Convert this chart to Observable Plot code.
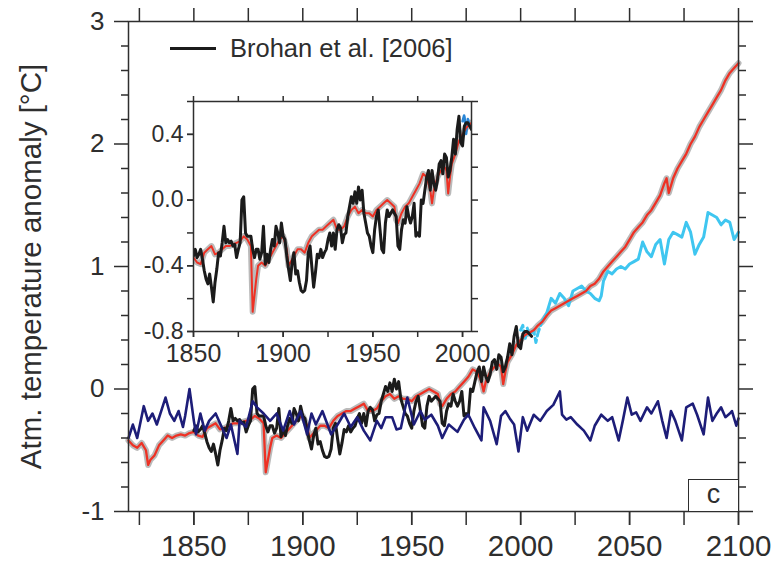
<!DOCTYPE html>
<html><head><meta charset="utf-8">
<script src="https://cdn.jsdelivr.net/npm/d3@7"></script>
<script src="https://cdn.jsdelivr.net/npm/@observablehq/plot@0.6"></script>
<style>
body{margin:0;background:#fff;}
#wrap{position:relative;width:773px;height:563px;font-family:"Liberation Sans",Arial,sans-serif;color:#2e2e2e;}
.abs{position:absolute;}
#legend{left:170px;top:34px;display:flex;align-items:center;font-size:25.5px;white-space:nowrap;}
#legend .sw{width:46px;height:0;border-top:3px solid #1b1b1b;margin-right:14px;}
#panel{left:688px;top:479px;width:49px;height:31px;border:1.5px solid #2e2e2e;border-right:none;border-bottom:none;font-size:27px;text-align:center;line-height:28px;background:#fff;}
</style></head><body><div id="wrap"></div>
<script>
// ---------- data ----------
const obsYears = [1850,1851,1852,1853,1854,1855,1856,1857,1858,1859,1860,1861,1862,1863,1864,1865,1866,1867,1868,1869,1870,1871,1872,1873,1874,1875,1876,1877,1878,1879,1880,1881,1882,1883,1884,1885,1886,1887,1888,1889,1890,1891,1892,1893,1894,1895,1896,1897,1898,1899,1900,1901,1902,1903,1904,1905,1906,1907,1908,1909,1910,1911,1912,1913,1914,1915,1916,1917,1918,1919,1920,1921,1922,1923,1924,1925,1926,1927,1928,1929,1930,1931,1932,1933,1934,1935,1936,1937,1938,1939,1940,1941,1942,1943,1944,1945,1946,1947,1948,1949,1950,1951,1952,1953,1954,1955,1956,1957,1958,1959,1960,1961,1962,1963,1964,1965,1966,1967,1968,1969,1970,1971,1972,1973,1974,1975,1976,1977,1978,1979,1980,1981,1982,1983,1984,1985,1986,1987,1988,1989,1990,1991,1992,1993,1994,1995,1996,1997,1998,1999,2000,2001,2002,2003,2004,2005];
const obsValues = [-0.34,-0.30,-0.35,-0.33,-0.30,-0.36,-0.43,-0.48,-0.51,-0.45,-0.53,-0.62,-0.50,-0.42,-0.32,-0.34,-0.26,-0.16,-0.26,-0.24,-0.26,-0.25,-0.28,-0.27,-0.35,-0.30,-0.26,0.00,0.02,-0.20,-0.22,-0.22,-0.22,-0.30,-0.35,-0.30,-0.30,-0.36,-0.32,-0.16,-0.39,-0.33,-0.38,-0.30,-0.24,-0.28,-0.16,-0.20,-0.26,-0.14,-0.22,-0.24,-0.34,-0.42,-0.49,-0.38,-0.32,-0.45,-0.43,-0.50,-0.55,-0.56,-0.55,-0.49,-0.32,-0.28,-0.41,-0.53,-0.44,-0.33,-0.35,-0.30,-0.35,-0.32,-0.30,-0.24,-0.20,-0.28,-0.20,-0.30,-0.18,-0.15,-0.17,-0.26,-0.21,-0.20,-0.10,-0.04,0.02,-0.02,0.05,-0.02,0.08,0.00,0.06,-0.08,-0.14,-0.20,-0.22,-0.28,-0.32,-0.18,-0.10,-0.06,-0.18,-0.30,-0.32,-0.14,-0.06,-0.10,-0.08,-0.06,-0.08,-0.10,-0.28,-0.30,-0.18,-0.12,-0.14,-0.04,-0.10,-0.14,-0.10,-0.02,-0.22,-0.20,-0.22,0.00,-0.02,0.06,0.14,0.18,0.06,0.18,0.10,0.06,0.12,0.22,0.24,0.16,0.28,0.26,0.14,0.18,0.26,0.37,0.28,0.43,0.51,0.35,0.33,0.45,0.47,0.47,0.45,0.43];

const modelYears = [1820,1822,1824,1826,1828,1829,1830,1832,1834,1836,1838,1840,1842,1844,1846,1848,1850,1852,1854,1856,1858,1860,1862,1864,1866,1868,1870,1872,1874,1876,1878,1880,1882,1883,1884,1885,1886,1888,1890,1892,1894,1896,1898,1900,1902,1903,1904,1906,1908,1910,1912,1914,1916,1918,1920,1922,1924,1926,1928,1930,1932,1934,1936,1938,1940,1942,1944,1946,1948,1950,1952,1954,1956,1958,1960,1962,1963,1964,1966,1968,1970,1972,1974,1976,1978,1980,1982,1983,1984,1986,1988,1990,1991,1992,1993,1994,1996,1998,2000,2002,2004,2006,2008,2010,2012,2014,2016,2018,2020,2022,2024,2026,2028,2030,2032,2034,2036,2038,2040,2042,2044,2046,2048,2050,2052,2054,2056,2058,2060,2062,2064,2066,2067,2068,2070,2072,2074,2076,2078,2080,2082,2084,2086,2088,2090,2092,2094,2096,2098,2100];
const modelValues = [-0.42,-0.46,-0.48,-0.44,-0.50,-0.62,-0.58,-0.54,-0.46,-0.42,-0.38,-0.40,-0.38,-0.37,-0.38,-0.36,-0.35,-0.38,-0.39,-0.32,-0.30,-0.28,-0.33,-0.32,-0.30,-0.28,-0.28,-0.27,-0.26,-0.25,-0.22,-0.24,-0.28,-0.68,-0.58,-0.48,-0.40,-0.38,-0.40,-0.36,-0.32,-0.28,-0.24,-0.22,-0.30,-0.40,-0.38,-0.34,-0.30,-0.30,-0.32,-0.26,-0.22,-0.20,-0.18,-0.18,-0.16,-0.14,-0.12,-0.18,-0.18,-0.16,-0.10,-0.06,-0.04,-0.08,-0.06,-0.08,-0.08,-0.10,-0.06,-0.04,-0.02,0.00,-0.02,-0.04,-0.12,-0.14,-0.08,-0.04,-0.02,0.02,0.06,0.10,0.16,0.14,0.06,-0.02,0.06,0.14,0.18,0.20,0.18,0.04,0.14,0.22,0.28,0.36,0.40,0.44,0.46,0.48,0.52,0.55,0.60,0.64,0.66,0.68,0.70,0.72,0.74,0.76,0.78,0.80,0.84,0.86,0.90,0.96,1.00,1.04,1.08,1.12,1.16,1.22,1.28,1.32,1.36,1.42,1.46,1.52,1.58,1.68,1.72,1.60,1.72,1.80,1.86,1.92,2.00,2.06,2.14,2.20,2.26,2.32,2.38,2.44,2.52,2.58,2.62,2.66];

const lowYears = [2000,2001,2002,2003,2004,2006,2007,2008,2010,2012,2014,2016,2018,2020,2022,2024,2026,2028,2030,2032,2034,2036,2037,2038,2040,2042,2044,2046,2048,2050,2052,2054,2056,2058,2060,2062,2064,2066,2068,2070,2072,2074,2076,2078,2080,2082,2084,2086,2088,2090,2092,2094,2096,2098,2100];
const lowValues = [0.48,0.52,0.40,0.50,0.44,0.48,0.38,0.46,0.56,0.62,0.74,0.70,0.78,0.74,0.68,0.80,0.82,0.84,0.80,0.78,0.74,0.72,0.76,0.88,0.96,0.94,0.98,1.00,0.98,1.02,1.04,1.06,1.20,1.12,1.08,1.18,1.22,1.02,1.22,1.28,1.26,1.24,1.36,1.28,1.10,1.18,1.24,1.44,1.42,1.40,1.34,1.38,1.36,1.22,1.28];

const ctrlYears = [1820,1822,1824,1827,1829,1831,1833,1835,1837,1839,1841,1843,1845,1846,1848,1850,1851,1853,1855,1857,1860,1862,1865,1867,1870,1871,1874,1877,1879,1882,1885,1888,1891,1894,1896,1899,1902,1904,1906,1909,1913,1916,1919,1922,1925,1928,1931,1934,1936,1938,1941,1943,1945,1948,1951,1954,1956,1959,1962,1964,1967,1971,1974,1976,1979,1982,1983,1986,1989,1991,1993,1995,1997,1999,2001,2003,2006,2009,2012,2015,2018,2019,2021,2023,2026,2029,2032,2034,2037,2040,2042,2045,2047,2049,2051,2053,2055,2058,2060,2063,2065,2067,2069,2071,2074,2076,2079,2081,2084,2086,2088,2090,2092,2094,2096,2097,2099,2100];
const ctrlValues = [-0.40,-0.29,-0.40,-0.14,-0.26,-0.20,-0.29,-0.18,-0.07,-0.20,-0.26,-0.18,-0.31,-0.22,0.00,-0.26,-0.37,-0.20,-0.34,-0.26,-0.20,-0.28,-0.40,-0.29,-0.53,-0.26,-0.31,-0.10,-0.15,-0.20,-0.26,-0.20,-0.34,-0.18,-0.29,-0.18,-0.37,-0.20,-0.29,-0.18,-0.37,-0.29,-0.20,-0.31,-0.23,-0.34,-0.42,-0.26,-0.32,-0.23,-0.23,-0.33,-0.32,-0.07,-0.29,-0.18,-0.25,-0.21,-0.30,-0.40,-0.29,-0.35,-0.25,-0.21,-0.32,-0.42,-0.15,-0.26,-0.45,-0.22,-0.18,-0.24,-0.29,-0.51,-0.23,-0.34,-0.21,-0.26,-0.18,-0.13,-0.02,-0.21,-0.25,-0.23,-0.29,-0.34,-0.42,-0.30,-0.21,-0.26,-0.23,-0.42,-0.25,-0.07,-0.21,-0.19,-0.26,-0.15,-0.20,-0.10,-0.26,-0.40,-0.18,-0.26,-0.42,-0.15,-0.12,-0.21,-0.37,-0.07,-0.26,-0.20,-0.15,-0.23,-0.20,-0.18,-0.30,-0.24];

const xTicks = [1825,1850,1875,1900,1925,1950,1975,2000,2025,2050,2075,2100];
const xLabels = [1850,1900,1950,2000,2050,2100];
const yMajor = [-1,0,1,2,3];
const yMinor = [-0.8,-0.6,-0.4,-0.2,0.2,0.4,0.6,0.8,1.2,1.4,1.6,1.8,2.2,2.4,2.6,2.8];
const insetXTicks = [1850,1875,1900,1925,1950,1975,2000];
const insetXLabels = [1850,1900,1950,2000];
const insetYTicks = [-0.8,-0.6,-0.4,-0.2,0,0.2,0.4,0.6];
const insetYLabels = [-0.8,-0.4,0,0.4];
const yTitle = "Atm. temperature anomaly [°C]";
const legendLabel = "Brohan et al. [2006]";
const panelLabel = "c";

// ---------- tables ----------
const rows = (ys, vs) => ys.map((year, i) => ({year, value: vs[i]}));
const obs = rows(obsYears, obsValues);
const model = rows(modelYears, modelValues);
const low = rows(lowYears, lowValues);
const ctrl = rows(ctrlYears, ctrlValues);

const FONT = "Liberation Sans, Arial, sans-serif";
const AX = "#2e2e2e";
const C = {obs: "#1b1b1b", model: "#ee3124", band: "#a9a9a9", low: "#3fc6f0", lowDark: "#2a86d6", ctrl: "#1d1d78"};
const blank = () => "";

const main = Plot.plot({
  width: 773, height: 563,
  marginLeft: 128, marginRight: 35, marginTop: 21, marginBottom: 52,
  style: {fontFamily: FONT, color: AX, background: "transparent", overflow: "visible"},
  x: {domain: [1820, 2100], label: null},
  y: {domain: [-1, 3], label: null},
  marks: [
    Plot.line(model, {x: "year", y: "value", stroke: C.band, strokeWidth: 6, strokeOpacity: 0.8}),
    Plot.line(low.filter(d => d.year <= 2010), {x: "year", y: "value", stroke: C.low, strokeWidth: 3, strokeDasharray: "7,4"}),
    Plot.line(low.filter(d => d.year >= 2010), {x: "year", y: "value", stroke: C.low, strokeWidth: 3}),
    Plot.line(model, {x: "year", y: "value", stroke: C.model, strokeWidth: 2.3}),
    Plot.line(obs, {x: "year", y: "value", stroke: C.obs, strokeWidth: 3}),
    Plot.line(ctrl, {x: "year", y: "value", stroke: C.ctrl, strokeWidth: 2.6}),
    Plot.axisY({anchor: "left", ticks: yMinor, tickSize: 7, tickFormat: blank, label: null, stroke: AX, strokeWidth: 1.5}),
    Plot.axisY({anchor: "left", ticks: yMajor, tickSize: 14, tickPadding: 10, tickFormat: d => String(d), fontSize: 26, label: null, stroke: AX, strokeWidth: 1.5}),
    Plot.axisY({anchor: "right", ticks: yMinor, tickSize: 7, tickFormat: blank, label: null, stroke: AX, strokeWidth: 1.5}),
    Plot.axisY({anchor: "right", ticks: yMajor, tickSize: 14, tickFormat: blank, label: null, stroke: AX, strokeWidth: 1.5}),
    Plot.axisX({anchor: "bottom", ticks: xTicks, tickSize: 14, tickFormat: blank, label: null, stroke: AX, strokeWidth: 1.5}),
    Plot.axisX({anchor: "bottom", ticks: xLabels, tickSize: 14, tickPadding: 10, tickFormat: d => String(d), fontSize: 29.5, label: null, stroke: AX, strokeWidth: 1.5}),
    Plot.axisX({anchor: "top", ticks: xTicks, tickSize: 14, tickFormat: blank, label: null, stroke: AX, strokeWidth: 1.5}),
    Plot.frame({stroke: AX, strokeWidth: 1.5}),
    Plot.text([yTitle], {frameAnchor: "left", textAnchor: "middle", lineAnchor: "middle", rotate: -90, dx: -97, fontSize: 29.5, fill: AX})
  ]
});

const iOpts = {x: "year", y: "value", clip: true};
const inset = Plot.plot({
  width: 345, height: 280,
  marginLeft: 53, marginRight: 14, marginTop: 11, marginBottom: 39,
  style: {fontFamily: FONT, color: AX, background: "transparent", overflow: "visible"},
  x: {domain: [1850, 2005], label: null},
  y: {domain: [-0.8, 0.6], label: null},
  marks: [
    Plot.frame({fill: "white", stroke: null}),
    Plot.line(model, {...iOpts, stroke: C.band, strokeWidth: 6, strokeOpacity: 0.8}),
    Plot.line(low, {...iOpts, stroke: C.lowDark, strokeWidth: 2.5, strokeDasharray: "6,3"}),
    Plot.line(model, {...iOpts, stroke: C.model, strokeWidth: 2}),
    Plot.line(obs, {...iOpts, stroke: C.obs, strokeWidth: 3}),
    Plot.axisY({anchor: "left", ticks: insetYTicks, tickSize: 6, tickFormat: blank, label: null, stroke: AX, strokeWidth: 1.5}),
    Plot.axisY({anchor: "left", ticks: insetYLabels, tickSize: 6, tickPadding: 4, tickFormat: d => d.toFixed(1), fontSize: 23, label: null, stroke: AX, strokeWidth: 1.5}),
    Plot.axisY({anchor: "right", ticks: insetYTicks, tickSize: 6, tickFormat: blank, label: null, stroke: AX, strokeWidth: 1.5}),
    Plot.axisX({anchor: "bottom", ticks: insetXTicks, tickSize: 6, tickFormat: blank, label: null, stroke: AX, strokeWidth: 1.5}),
    Plot.axisX({anchor: "bottom", ticks: insetXLabels, tickSize: 6, tickPadding: 7, tickFormat: d => String(d), fontSize: 25, label: null, stroke: AX, strokeWidth: 1.5}),
    Plot.axisX({anchor: "top", ticks: insetXTicks, tickSize: 6, tickFormat: blank, label: null, stroke: AX, strokeWidth: 1.5}),
    Plot.frame({stroke: AX, strokeWidth: 1.5})
  ]
});

const wrap = document.getElementById("wrap");
main.classList.add("abs"); main.style.left = "0px"; main.style.top = "0px";
wrap.appendChild(main);
inset.classList.add("abs"); inset.style.left = "140px"; inset.style.top = "90px";
wrap.appendChild(inset);

const leg = document.createElement("div");
leg.id = "legend"; leg.className = "abs";
const sw = document.createElement("span"); sw.className = "sw";
const lt = document.createElement("span"); lt.textContent = legendLabel;
leg.append(sw, lt);
wrap.appendChild(leg);

const panel = document.createElement("div");
panel.id = "panel"; panel.className = "abs"; panel.textContent = panelLabel;
wrap.appendChild(panel);
</script>
</body></html>
